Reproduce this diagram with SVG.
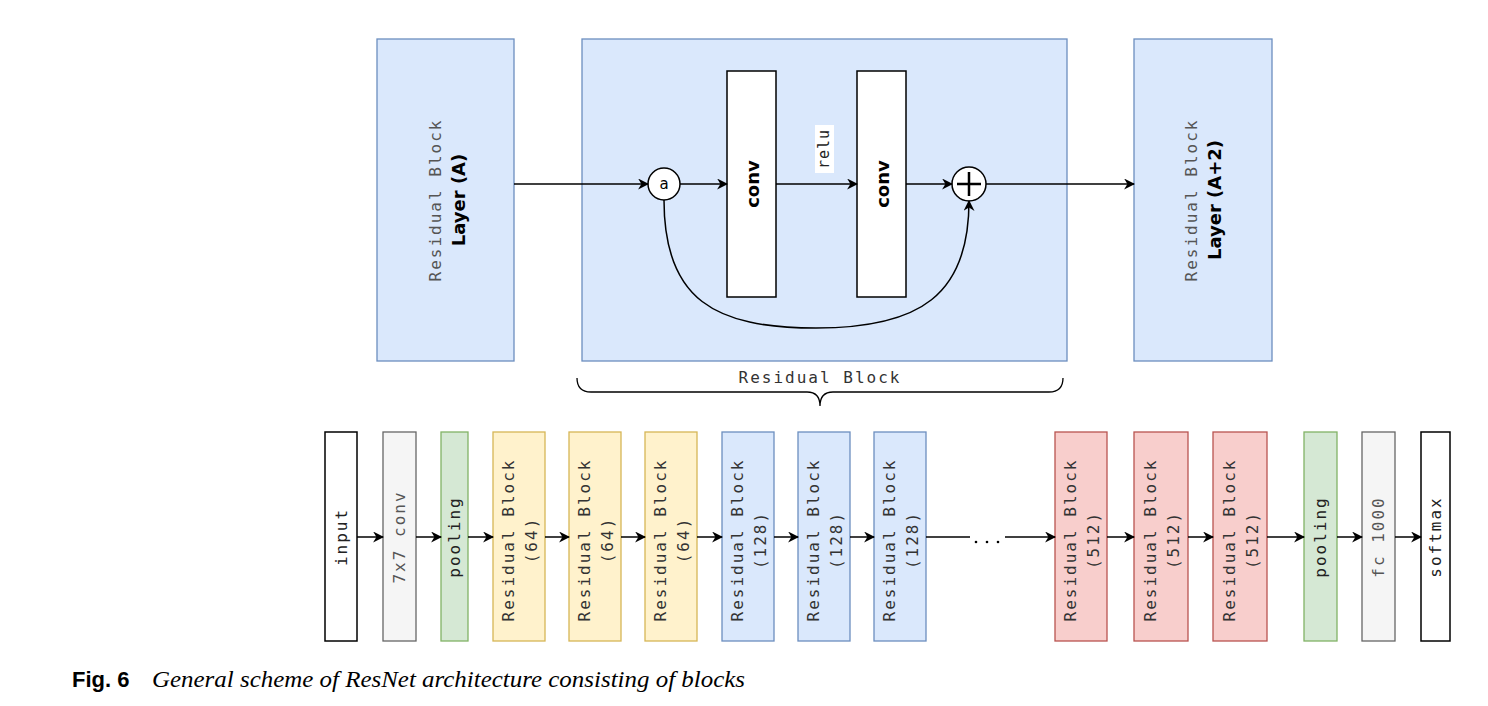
<svg xmlns="http://www.w3.org/2000/svg" width="1488" height="706" viewBox="0 0 1488 706">
<style>
.blue{fill:#dae8fc;stroke:#6c8ebf;stroke-width:1.3}
.yel{fill:#fff2cc;stroke:#d6b656;stroke-width:1.3}
.red{fill:#f8cecc;stroke:#b85450;stroke-width:1.3}
.grn{fill:#d5e8d4;stroke:#82b366;stroke-width:1.3}
.gry{fill:#f5f5f5;stroke:#666666;stroke-width:1.3}
.wht{fill:#ffffff;stroke:#000000;stroke-width:1.5}
.mono{font-family:"DejaVu Sans Mono","Liberation Mono",monospace;font-size:16px;letter-spacing:2px;text-anchor:middle;dominant-baseline:central}
.g{fill:#555555}
.dk{fill:#222222}
.gt{fill:#333333}
.sb{font-family:"DejaVu Sans","Liberation Sans",sans-serif;font-weight:bold;font-size:18px;text-anchor:middle;dominant-baseline:central;fill:#000}
.ln{fill:none;stroke:#000;stroke-width:1.5}
.fig{font-family:"Liberation Sans",Arial,sans-serif;font-weight:bold;font-size:22px}
</style>
<defs>
<marker id="arr" viewBox="0 0 10 10" refX="9" refY="5" markerWidth="11" markerHeight="11" markerUnits="userSpaceOnUse" orient="auto">
<path d="M0,0 L10,5 L0,10 L3,5 Z" fill="#000"/>
</marker>
</defs>
<rect width="1488" height="706" fill="#ffffff"/>

<g id="layerA">
<rect class="blue" x="377" y="39" width="137" height="322"/>
<text class="mono g" transform="translate(435,200) rotate(-90)">Residual Block</text>
<text class="sb" transform="translate(458,200) rotate(-90)">Layer (A)</text>
</g>
<g id="resblock">
<rect class="blue" x="582" y="39" width="485" height="322"/>
</g>
<g id="layerA2">
<rect class="blue" x="1134" y="39" width="138" height="322"/>
<text class="mono g" transform="translate(1191,200) rotate(-90)">Residual Block</text>
<text class="sb" transform="translate(1214,200) rotate(-90)">Layer (A+2)</text>
</g>
<g id="nodeA">
<circle cx="664" cy="184" r="16" fill="#fff" stroke="#000" stroke-width="1.5"/>
<text x="664" y="184" style="font-family:'DejaVu Sans',sans-serif;font-size:15px;text-anchor:middle;dominant-baseline:central">a</text>
</g>
<g id="conv1">
<rect class="wht" x="727" y="71" width="49" height="226"/>
<text class="sb" transform="translate(752,184) rotate(-90)">conv</text>
</g>
<g id="conv2">
<rect class="wht" x="857" y="71" width="49" height="226"/>
<text class="sb" transform="translate(882,184) rotate(-90)">conv</text>
</g>
<g id="plus">
<circle cx="969" cy="184" r="17" fill="#fff" stroke="#000" stroke-width="1.5"/>
<path d="M957,184 H981 M969,172 V196" stroke="#000" stroke-width="2.5" fill="none"/>
</g>

<g id="bottom">
<g id="b-input"><rect class="wht" x="325" y="432" width="32" height="209"/><text class="mono dk" transform="translate(341,537) rotate(-90)">input</text></g>
<g id="b-conv"><rect class="gry" x="383" y="432" width="33" height="209"/><text class="mono g" transform="translate(399.5,537) rotate(-90)">7x7 conv</text></g>
<g id="b-pool1"><rect class="grn" x="441" y="432" width="27" height="209"/><text class="mono dk" transform="translate(454.5,537) rotate(-90)">pooling</text></g>
<g id="b-r64a"><rect class="yel" x="493" y="432" width="52" height="209"/><text class="mono gt" transform="translate(508,540) rotate(-90)">Residual Block</text><text class="mono gt" transform="translate(531,540) rotate(-90)">(64)</text></g>
<g id="b-r64b"><rect class="yel" x="569" y="432" width="52" height="209"/><text class="mono gt" transform="translate(584,540) rotate(-90)">Residual Block</text><text class="mono gt" transform="translate(607,540) rotate(-90)">(64)</text></g>
<g id="b-r64c"><rect class="yel" x="645" y="432" width="52" height="209"/><text class="mono gt" transform="translate(660,540) rotate(-90)">Residual Block</text><text class="mono gt" transform="translate(683,540) rotate(-90)">(64)</text></g>
<g id="b-r128a"><rect class="blue" x="722" y="432" width="52" height="209"/><text class="mono gt" transform="translate(737,540) rotate(-90)">Residual Block</text><text class="mono gt" transform="translate(760,540) rotate(-90)">(128)</text></g>
<g id="b-r128b"><rect class="blue" x="798" y="432" width="52" height="209"/><text class="mono gt" transform="translate(813,540) rotate(-90)">Residual Block</text><text class="mono gt" transform="translate(836,540) rotate(-90)">(128)</text></g>
<g id="b-r128c"><rect class="blue" x="874" y="432" width="52" height="209"/><text class="mono gt" transform="translate(889,540) rotate(-90)">Residual Block</text><text class="mono gt" transform="translate(912,540) rotate(-90)">(128)</text></g>
<g id="b-r512a"><rect class="red" x="1055" y="432" width="52" height="209"/><text class="mono gt" transform="translate(1070,540) rotate(-90)">Residual Block</text><text class="mono gt" transform="translate(1093,540) rotate(-90)">(512)</text></g>
<g id="b-r512b"><rect class="red" x="1134" y="432" width="54" height="209"/><text class="mono gt" transform="translate(1150,540) rotate(-90)">Residual Block</text><text class="mono gt" transform="translate(1173,540) rotate(-90)">(512)</text></g>
<g id="b-r512c"><rect class="red" x="1213" y="432" width="54" height="209"/><text class="mono gt" transform="translate(1229,540) rotate(-90)">Residual Block</text><text class="mono gt" transform="translate(1252,540) rotate(-90)">(512)</text></g>
<g id="b-pool2"><rect class="grn" x="1304" y="432" width="33" height="209"/><text class="mono dk" transform="translate(1320.5,537) rotate(-90)">pooling</text></g>
<g id="b-fc"><rect class="gry" x="1362" y="432" width="33" height="209"/><text class="mono g" transform="translate(1378.5,537) rotate(-90)">fc 1000</text></g>
<g id="b-soft"><rect class="wht" x="1421" y="432" width="29" height="209"/><text class="mono dk" transform="translate(1435.5,537) rotate(-90)">softmax</text></g>
</g>

<g id="connectors">
<path class="ln" d="M514,184 H648" marker-end="url(#arr)"/>
<path class="ln" d="M680,184 H727" marker-end="url(#arr)"/>
<path class="ln" d="M776,184 H857" marker-end="url(#arr)"/>
<path class="ln" d="M906,184 H952" marker-end="url(#arr)"/>
<path class="ln" d="M986,184 H1134" marker-end="url(#arr)"/>
<path class="ln" d="M664,200 C664,300 715,328 816,328 C920,328 969,295 969,201" marker-end="url(#arr)"/>
<rect x="815" y="125" width="19" height="48" fill="#ffffff"/>
<text class="mono dk" style="font-size:15px;letter-spacing:1px" transform="translate(824,149) rotate(-90)">relu</text>

<path d="M577,378 Q577,392 591,392 L807,392 Q820,392 820,406 Q820,392 833,392 L1049,392 Q1063,392 1063,378" fill="none" stroke="#000" stroke-width="1.3"/>
<text class="mono gt" x="820" y="377">Residual Block</text>

<path class="ln" d="M357,537 H383" marker-end="url(#arr)"/>
<path class="ln" d="M416,537 H441" marker-end="url(#arr)"/>
<path class="ln" d="M468,537 H493" marker-end="url(#arr)"/>
<path class="ln" d="M545,537 H569" marker-end="url(#arr)"/>
<path class="ln" d="M621,537 H645" marker-end="url(#arr)"/>
<path class="ln" d="M697,537 H722" marker-end="url(#arr)"/>
<path class="ln" d="M774,537 H798" marker-end="url(#arr)"/>
<path class="ln" d="M850,537 H874" marker-end="url(#arr)"/>
<path class="ln" d="M926,537 H970"/>
<circle cx="976" cy="542" r="1.3" fill="#000"/>
<circle cx="987" cy="542" r="1.3" fill="#000"/>
<circle cx="998" cy="542" r="1.3" fill="#000"/>
<path class="ln" d="M1005,537 H1055" marker-end="url(#arr)"/>
<path class="ln" d="M1107,537 H1134" marker-end="url(#arr)"/>
<path class="ln" d="M1188,537 H1213" marker-end="url(#arr)"/>
<path class="ln" d="M1267,537 H1304" marker-end="url(#arr)"/>
<path class="ln" d="M1337,537 H1362" marker-end="url(#arr)"/>
<path class="ln" d="M1395,537 H1421" marker-end="url(#arr)"/>
</g>

<text class="fig" x="72" y="687">Fig. 6</text>
<text x="152" y="687" font-family="Liberation Serif, DejaVu Serif, serif" font-style="italic" font-size="23" textLength="593" lengthAdjust="spacingAndGlyphs">General scheme of ResNet architecture consisting of blocks</text>
</svg>
